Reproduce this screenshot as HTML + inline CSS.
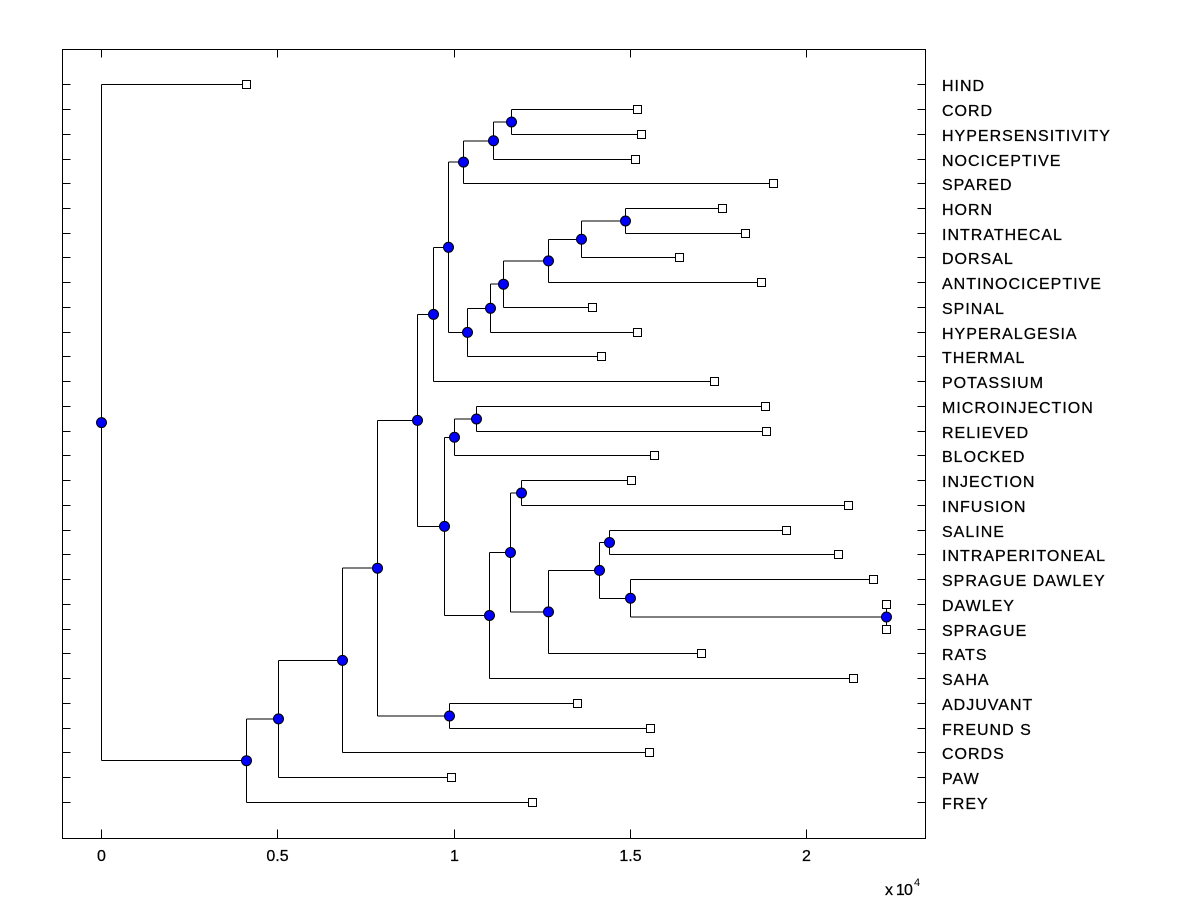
<!DOCTYPE html>
<html>
<head>
<meta charset="utf-8">
<style>
  html, body { margin: 0; padding: 0; background: #ffffff; }
  svg { display: block; }
  text { font-family: "Liberation Sans", Arial, sans-serif; fill: #000; }
</style>
</head>
<body>
<svg width="1200" height="900" viewBox="0 0 1200 900" xmlns="http://www.w3.org/2000/svg">
  <rect x="0" y="0" width="1200" height="900" fill="#ffffff"/>
  <g transform="translate(0.5,0.5)">
    <!-- axes box -->
    <rect x="62" y="49" width="863" height="789" fill="none" stroke="#000" stroke-width="1" shape-rendering="crispEdges"/>
    <!-- ticks -->
    <path shape-rendering="crispEdges" stroke="#000" stroke-width="1" fill="none" d="
      M62,84 H70 M62,109 H70 M62,134 H70 M62,159 H70 M62,183 H70 M62,208 H70 M62,233 H70 M62,257 H70 M62,282 H70 M62,307 H70
      M62,332 H70 M62,356 H70 M62,381 H70 M62,406 H70 M62,431 H70 M62,455 H70 M62,480 H70 M62,505 H70 M62,530 H70 M62,554 H70
      M62,579 H70 M62,604 H70 M62,629 H70 M62,653 H70 M62,678 H70 M62,703 H70 M62,728 H70 M62,752 H70 M62,777 H70 M62,802 H70
      M917,84 H925 M917,109 H925 M917,134 H925 M917,159 H925 M917,183 H925 M917,208 H925 M917,233 H925 M917,257 H925 M917,282 H925 M917,307 H925
      M917,332 H925 M917,356 H925 M917,381 H925 M917,406 H925 M917,431 H925 M917,455 H925 M917,480 H925 M917,505 H925 M917,530 H925 M917,554 H925
      M917,579 H925 M917,604 H925 M917,629 H925 M917,653 H925 M917,678 H925 M917,703 H925 M917,728 H925 M917,752 H925 M917,777 H925 M917,802 H925
      M101,838 V829 M277,838 V829 M454,838 V829 M630,838 V829 M806,838 V829
      M101,49 V57 M277,49 V57 M454,49 V57 M630,49 V57 M806,49 V57
    "/>
    <!-- dendrogram lines -->
    <path shape-rendering="crispEdges" stroke="#000" stroke-width="1" fill="none" d="
      M101,84 V760.2 M101,84 H246 M101,760.2 H246
      M246,718.4 V802 M246,718.4 H278 M246,802 H532
      M278,659.85 V777 M278,659.85 H342 M278,777 H451
      M342,567.7 V752 M342,567.7 H377 M342,752 H649
      M377,419.9 V715.5 M377,419.9 H417 M377,715.5 H449
      M449,703 V728 M449,703 H577 M449,728 H650
      M417,313.9 V525.9 M417,313.9 H433 M417,525.9 H444
      M433,246.8 V381 M433,246.8 H448 M433,381 H714
      M448,161.6 V331.9 M448,161.6 H463 M448,331.9 H467
      M463,140.25 V183 M463,140.25 H493 M463,183 H773
      M493,121.5 V159 M493,121.5 H511 M493,159 H635
      M511,109 V134 M511,109 H637 M511,134 H641
      M467,307.8 V356 M467,307.8 H490 M467,356 H601
      M490,283.7 V332 M490,283.7 H503 M490,332 H637
      M503,260.4 V307 M503,260.4 H548 M503,307 H592
      M548,238.75 V282 M548,238.75 H581 M548,282 H761
      M581,220.5 V257 M581,220.5 H625 M581,257 H679
      M625,208 V233 M625,208 H722 M625,233 H745
      M444,436.75 V615 M444,436.75 H454 M444,615 H489
      M454,418.5 V455 M454,418.5 H476 M454,455 H654
      M476,406 V431 M476,406 H765 M476,431 H766
      M489,552 V678 M489,552 H510 M489,678 H853
      M510,492.5 V611.4 M510,492.5 H521 M510,611.4 H548
      M521,480 V505 M521,480 H631 M521,505 H848
      M548,569.9 V653 M548,569.9 H599 M548,653 H701
      M599,542 V597.75 M599,542 H609 M599,597.75 H630
      M609,530 V554 M609,530 H786 M609,554 H838
      M630,579 V616.5 M630,579 H873 M630,616.5 H886
      M886,604 V629
    "/>
    <!-- leaf squares -->
    <g fill="#ffffff" stroke="#000" stroke-width="1" shape-rendering="crispEdges">
      <rect x="242" y="80" width="8" height="8"/>
      <rect x="633" y="105" width="8" height="8"/>
      <rect x="637" y="130" width="8" height="8"/>
      <rect x="631" y="155" width="8" height="8"/>
      <rect x="769" y="179" width="8" height="8"/>
      <rect x="718" y="204" width="8" height="8"/>
      <rect x="741" y="229" width="8" height="8"/>
      <rect x="675" y="253" width="8" height="8"/>
      <rect x="757" y="278" width="8" height="8"/>
      <rect x="588" y="303" width="8" height="8"/>
      <rect x="633" y="328" width="8" height="8"/>
      <rect x="597" y="352" width="8" height="8"/>
      <rect x="710" y="377" width="8" height="8"/>
      <rect x="761" y="402" width="8" height="8"/>
      <rect x="762" y="427" width="8" height="8"/>
      <rect x="650" y="451" width="8" height="8"/>
      <rect x="627" y="476" width="8" height="8"/>
      <rect x="844" y="501" width="8" height="8"/>
      <rect x="782" y="526" width="8" height="8"/>
      <rect x="834" y="550" width="8" height="8"/>
      <rect x="869" y="575" width="8" height="8"/>
      <rect x="882" y="600" width="8" height="8"/>
      <rect x="882" y="625" width="8" height="8"/>
      <rect x="697" y="649" width="8" height="8"/>
      <rect x="849" y="674" width="8" height="8"/>
      <rect x="573" y="699" width="8" height="8"/>
      <rect x="646" y="724" width="8" height="8"/>
      <rect x="645" y="748" width="8" height="8"/>
      <rect x="447" y="773" width="8" height="8"/>
      <rect x="528" y="798" width="8" height="8"/>
    </g>
    <!-- internal nodes -->
    <g fill="#0000ff" stroke="#000" stroke-width="1">
      <circle cx="101" cy="422.1" r="5"/>
      <circle cx="246" cy="760.2" r="5"/>
      <circle cx="278" cy="718.4" r="5"/>
      <circle cx="342" cy="659.85" r="5"/>
      <circle cx="377" cy="567.7" r="5"/>
      <circle cx="449" cy="715.5" r="5"/>
      <circle cx="417" cy="419.9" r="5"/>
      <circle cx="433" cy="313.9" r="5"/>
      <circle cx="448" cy="246.8" r="5"/>
      <circle cx="463" cy="161.6" r="5"/>
      <circle cx="493" cy="140.25" r="5"/>
      <circle cx="511" cy="121.5" r="5"/>
      <circle cx="467" cy="331.9" r="5"/>
      <circle cx="490" cy="307.8" r="5"/>
      <circle cx="503" cy="283.7" r="5"/>
      <circle cx="548" cy="260.4" r="5"/>
      <circle cx="581" cy="238.75" r="5"/>
      <circle cx="625" cy="220.5" r="5"/>
      <circle cx="444" cy="525.9" r="5"/>
      <circle cx="454" cy="436.75" r="5"/>
      <circle cx="476" cy="418.5" r="5"/>
      <circle cx="489" cy="615" r="5"/>
      <circle cx="510" cy="552" r="5"/>
      <circle cx="521" cy="492.5" r="5"/>
      <circle cx="548" cy="611.4" r="5"/>
      <circle cx="599" cy="569.9" r="5"/>
      <circle cx="609" cy="542" r="5"/>
      <circle cx="630" cy="597.75" r="5"/>
      <circle cx="886" cy="616.5" r="5"/>
    </g>
  </g>
  <!-- leaf labels -->
  <g font-size="16" letter-spacing="1" stroke="#000" stroke-width="0.25">
    <text x="942" y="91">HIND</text>
    <text x="942" y="116">CORD</text>
    <text x="942" y="141">HYPERSENSITIVITY</text>
    <text x="942" y="166">NOCICEPTIVE</text>
    <text x="942" y="190">SPARED</text>
    <text x="942" y="215">HORN</text>
    <text x="942" y="240">INTRATHECAL</text>
    <text x="942" y="264">DORSAL</text>
    <text x="942" y="289">ANTINOCICEPTIVE</text>
    <text x="942" y="314">SPINAL</text>
    <text x="942" y="339">HYPERALGESIA</text>
    <text x="942" y="363">THERMAL</text>
    <text x="942" y="388">POTASSIUM</text>
    <text x="942" y="413">MICROINJECTION</text>
    <text x="942" y="438">RELIEVED</text>
    <text x="942" y="462">BLOCKED</text>
    <text x="942" y="487">INJECTION</text>
    <text x="942" y="512">INFUSION</text>
    <text x="942" y="537">SALINE</text>
    <text x="942" y="561">INTRAPERITONEAL</text>
    <text x="942" y="586">SPRAGUE DAWLEY</text>
    <text x="942" y="611">DAWLEY</text>
    <text x="942" y="636">SPRAGUE</text>
    <text x="942" y="660">RATS</text>
    <text x="942" y="685">SAHA</text>
    <text x="942" y="710">ADJUVANT</text>
    <text x="942" y="735">FREUND S</text>
    <text x="942" y="759">CORDS</text>
    <text x="942" y="784">PAW</text>
    <text x="942" y="809">FREY</text>
  </g>
  <!-- x tick labels -->
  <g font-size="16" text-anchor="middle" stroke="#000" stroke-width="0.25">
    <text x="101.5" y="861">0</text>
    <text x="277.5" y="861">0.5</text>
    <text x="454.5" y="861">1</text>
    <text x="630.5" y="861">1.5</text>
    <text x="806.5" y="861">2</text>
  </g>
  <text x="885" y="895" font-size="16" letter-spacing="-0.8" stroke="#000" stroke-width="0.25">x 10</text>
  <text x="914" y="886" font-size="11">4</text>
</svg>
</body>
</html>
